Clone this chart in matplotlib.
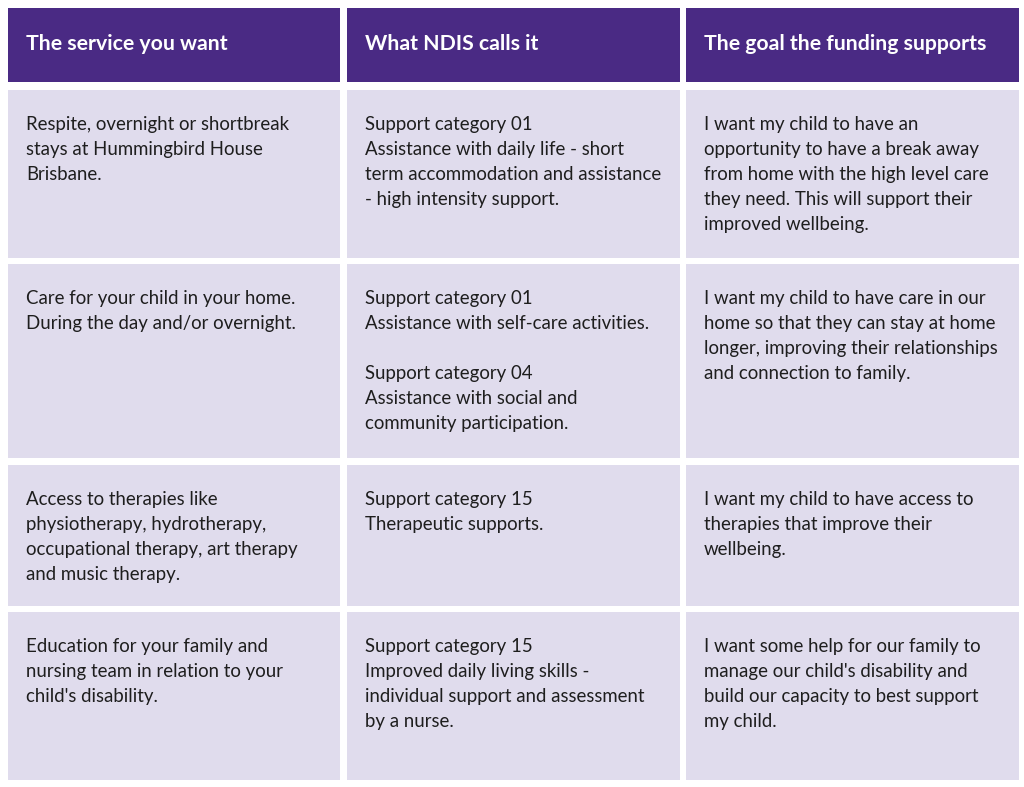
import matplotlib
matplotlib.use("Agg")
import matplotlib.pyplot as plt
from matplotlib.patches import Rectangle

# contenido de la tabla
headers = ["The service you want", "What NDIS calls it", "The goal the funding supports"]

col_service = [
    "Respite, overnight or shortbreak\nstays at Hummingbird House\nBrisbane.",
    "Care for your child in your home.\nDuring the day and/or overnight.",
    "Access to therapies like\nphysiotherapy, hydrotherapy,\noccupational therapy, art therapy\nand music therapy.",
    "Education for your family and\nnursing team in relation to your\nchild's disability.",
]
col_ndis = [
    "Support category 01\nAssistance with daily life - short\nterm accommodation and assistance\n- high intensity support.",
    "Support category 01\nAssistance with self-care activities.\n\nSupport category 04\nAssistance with social and\ncommunity participation.",
    "Support category 15\nTherapeutic supports.",
    "Support category 15\nImproved daily living skills -\nindividual support and assessment\nby a nurse.",
]
col_goal = [
    "I want my child to have an\nopportunity to have a break away\nfrom home with the high level care\nthey need. This will support their\nimproved wellbeing.",
    "I want my child to have care in our\nhome so that they can stay at home\nlonger, improving their relationships\nand connection to family.",
    "I want my child to have access to\ntherapies that improve their\nwellbeing.",
    "I want some help for our family to\nmanage our child's disability and\nbuild our capacity to best support\nmy child.",
]

# geometria en pixeles
col_x = [(8, 340), (347, 680), (686, 1019)]
head_y = (8, 82)
row_y = [(90, 258), (264, 458), (465, 606), (612, 780)]

purple = "#4a2a84"
lilac = "#e0dced"

fig = plt.figure(figsize=(10.24, 7.87), dpi=100)
ax = fig.add_axes([0, 0, 1, 1])
ax.set_xlim(0, 1024)
ax.set_ylim(787, 0)
ax.axis("off")

for (x0, x1), h in zip(col_x, headers):
    ax.add_patch(Rectangle((x0, head_y[0]), x1 - x0, head_y[1] - head_y[0], color=purple, lw=0))
    ax.text(x0 + 18, (head_y[0] + head_y[1]) / 2 - 1, h, color="white", fontsize=15.3,
            fontweight="bold", family="Lato", va="center", ha="left")

columns = [col_service, col_ndis, col_goal]
for ci, (x0, x1) in enumerate(col_x):
    for ri, (y0, y1) in enumerate(row_y):
        ax.add_patch(Rectangle((x0, y0), x1 - x0, y1 - y0, color=lilac, lw=0))
        ax.text(x0 + 18, y0 + 26, columns[ci][ri], color="#1e1e1e", fontsize=13.4,
                family="Lato", va="top", ha="left", linespacing=1.57)

fig.savefig("out.png", dpi=100)
